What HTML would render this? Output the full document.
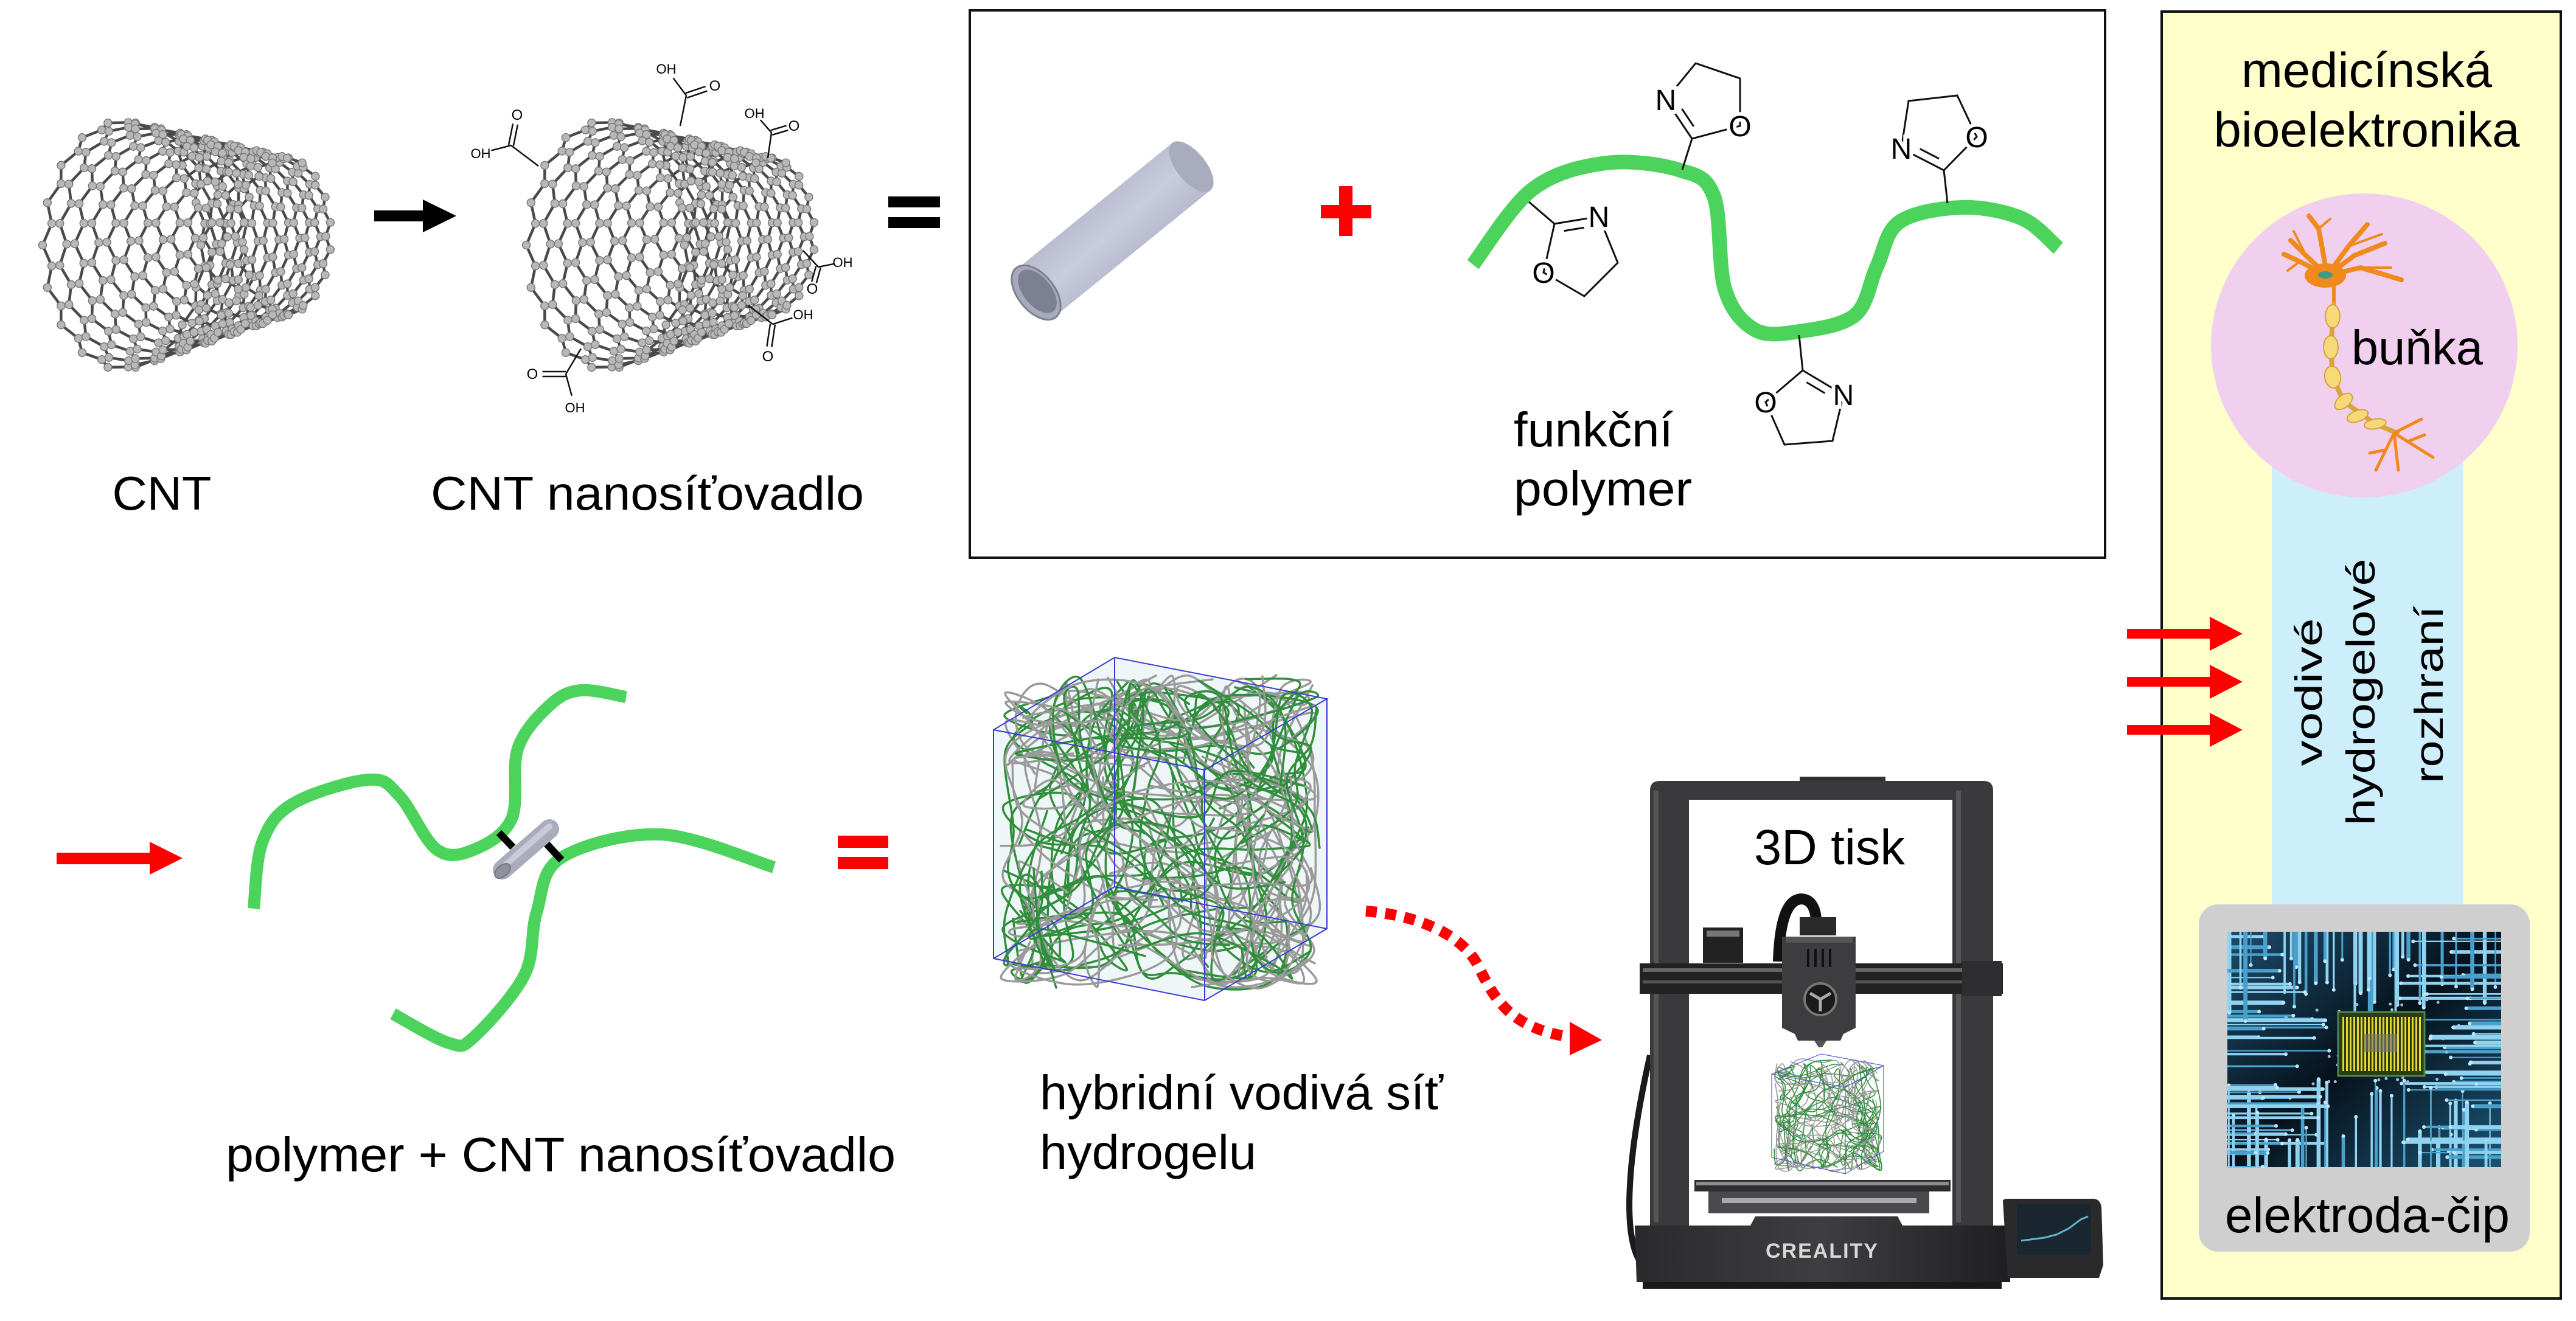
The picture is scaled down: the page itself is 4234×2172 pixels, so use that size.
<!DOCTYPE html>
<html><head><meta charset="utf-8">
<style>
html,body{margin:0;padding:0;background:#fff;}
svg{display:block;}
text{font-family:"Liberation Sans",Arial,sans-serif;fill:#000;}
.lab{paint-order:stroke;stroke:#fff;stroke-width:10px;}
</style></head>
<body>
<svg id="s" xmlns="http://www.w3.org/2000/svg" width="4234" height="2172" viewBox="0 0 4234 2172">
<defs>
<linearGradient id="tubeG" x1="0" y1="0" x2="1" y2="1">
<stop offset="0" stop-color="#8d90a2"/><stop offset="0.5" stop-color="#c9ccdf"/><stop offset="1" stop-color="#878a9c"/>
</linearGradient>
<linearGradient id="chipBg" x1="0" y1="0" x2="1" y2="1">
<stop offset="0" stop-color="#1d4c6c"/><stop offset="0.5" stop-color="#06121c"/><stop offset="1" stop-color="#1c5474"/>
</linearGradient>
<linearGradient id="baseG" x1="0" y1="0" x2="1" y2="0">
<stop offset="0" stop-color="#2a2a2c"/><stop offset="0.5" stop-color="#3e3e41"/><stop offset="1" stop-color="#1f1f21"/>
</linearGradient>
</defs>

<!-- ===== right panel ===== -->
<rect x="3553" y="19" width="656" height="2116" fill="#ffffcc" stroke="#111" stroke-width="4"/>
<rect x="3734" y="760" width="314" height="740" fill="#cdeefb"/>
<ellipse cx="3886" cy="568" rx="252" ry="250" fill="#f0d0ee"/>
<rect x="3614" y="1487" width="544" height="571" rx="32" fill="#cfcfcf"/>
<rect x="3661" y="1532" width="450" height="387" fill="url(#chipBg)"/>
<g id="chip"></g>
<text x="3890" y="143" font-size="81" text-anchor="middle" textLength="412" lengthAdjust="spacingAndGlyphs">medicínská</text>
<text x="3890" y="241" font-size="81" text-anchor="middle" textLength="503" lengthAdjust="spacingAndGlyphs">bioelektronika</text>
<text x="3865" y="599" font-size="80" textLength="216" lengthAdjust="spacingAndGlyphs">buňka</text>
<text x="3657" y="2026" font-size="82" textLength="468" lengthAdjust="spacingAndGlyphs">elektroda-čip</text>
<text transform="translate(3816,1138) rotate(-90)" font-size="62" text-anchor="middle" textLength="243" lengthAdjust="spacingAndGlyphs">vodivé</text>
<text transform="translate(3903,1138) rotate(-90)" font-size="66" text-anchor="middle" textLength="439" lengthAdjust="spacingAndGlyphs">hydrogelové</text>
<text transform="translate(4015,1142) rotate(-90)" font-size="66" text-anchor="middle" textLength="292" lengthAdjust="spacingAndGlyphs">rozhraní</text>
<!-- neuron -->
<g id="neuron" stroke-linecap="round" stroke-linejoin="round"></g>
<!-- red arrows -->
<g fill="#f00">
<rect x="3496" y="1034" width="140" height="16"/><polygon points="3632,1014 3686,1042 3632,1070"/>
<rect x="3496" y="1113" width="140" height="16"/><polygon points="3632,1093 3686,1121 3632,1149"/>
<rect x="3496" y="1192" width="140" height="16"/><polygon points="3632,1172 3686,1200 3632,1228"/>
</g>

<!-- ===== top-left ===== -->
<g id="cnt1"></g>
<g id="cnt2"></g>
<g id="cooh" stroke="#111" stroke-width="2.5" fill="none"></g>
<rect x="615" y="346" width="82" height="18" fill="#000"/>
<polygon points="695,328 750,355 695,382" fill="#000"/>
<rect x="1460" y="323" width="85" height="18" fill="#000"/>
<rect x="1460" y="357" width="85" height="18" fill="#000"/>
<text x="266" y="838" font-size="78" text-anchor="middle" textLength="163" lengthAdjust="spacingAndGlyphs">CNT</text>
<text x="708" y="838" font-size="78" textLength="712" lengthAdjust="spacingAndGlyphs">CNT nanosíťovadlo</text>

<!-- ===== top box ===== -->
<rect x="1594" y="17" width="1866" height="900" fill="none" stroke="#111" stroke-width="4"/>
<polygon points="1734.5,519.8 1671.5,442.2 1926.5,235.2 1989.5,312.8" fill="url(#tubeG)"/>
<ellipse cx="1958" cy="274" rx="50" ry="24" transform="rotate(51 1958 274)" fill="#a9acbf"/>
<ellipse cx="1703" cy="481" rx="52" ry="30" transform="rotate(51 1703 481)" fill="#a7aabb" stroke="#7d8090" stroke-width="3"/>
<ellipse cx="1705" cy="479" rx="42" ry="23" transform="rotate(51 1705 479)" fill="#7d8092"/>
<rect x="2201" y="306" width="22" height="82" fill="#f00"/>
<rect x="2171" y="337" width="83" height="22" fill="#f00"/>
<path id="poly1" fill="none" stroke="#4cd35c" stroke-width="24" stroke-linecap="butt"/>
<g id="oxa" stroke="#111" stroke-width="3" fill="none"></g>
<text x="2488" y="734" font-size="80" textLength="262" lengthAdjust="spacingAndGlyphs">funkční</text>
<text x="2488" y="831" font-size="80" textLength="293" lengthAdjust="spacingAndGlyphs">polymer</text>

<!-- ===== middle left ===== -->
<rect x="93" y="1402" width="155" height="19" fill="#f00"/>
<polygon points="246,1384 300,1411 246,1438" fill="#f00"/>
<path id="g1" fill="none" stroke="#4cd35c" stroke-width="20"/>
<path id="g2" fill="none" stroke="#4cd35c" stroke-width="20"/>
<line x1="820" y1="1369" x2="843" y2="1393" stroke="#000" stroke-width="12"/>
<line x1="897" y1="1386" x2="923" y2="1414" stroke="#000" stroke-width="12"/>
<line x1="826" y1="1430" x2="903" y2="1363" stroke="#a9acbd" stroke-width="32" stroke-linecap="round"/>
<line x1="826" y1="1426" x2="903" y2="1359" stroke="#c9cbd9" stroke-width="10" stroke-linecap="round"/>
<ellipse cx="826" cy="1432" rx="15" ry="9" transform="rotate(-41 826 1432)" fill="#8e91a2" stroke="#777" stroke-width="2"/>
<rect x="1377" y="1374" width="83" height="20" fill="#f00"/>
<rect x="1377" y="1409" width="83" height="20" fill="#f00"/>
<text x="371" y="1926" font-size="80" textLength="1101" lengthAdjust="spacingAndGlyphs">polymer + CNT nanosíťovadlo</text>

<!-- ===== hydrogel cube ===== -->
<polygon points="1633,1200 1832,1081 2181,1149 2181,1527 1980,1645 1633,1576" fill="#eef6f8"/>
<g id="fib" fill="none" stroke-linecap="round"></g>
<g stroke="#3a3ad8" stroke-width="2" fill="none">
<polyline points="1633,1200 1832,1081 2181,1149 1980,1266 1633,1200 1633,1576 1980,1645 2181,1527 2181,1149"/>
<line x1="1980" y1="1266" x2="1980" y2="1645"/>
<polyline points="1832,1081 1832,1458 2181,1527"/>
<line x1="1832" y1="1458" x2="1633" y2="1576"/>
</g>
<text x="1709" y="1824" font-size="80" textLength="663" lengthAdjust="spacingAndGlyphs">hybridní vodivá síť</text>
<text x="1709" y="1922" font-size="80" textLength="356" lengthAdjust="spacingAndGlyphs">hydrogelu</text>
<path d="M2245,1498 C2330,1505 2400,1535 2428,1585 C2455,1640 2480,1690 2580,1705" fill="none" stroke="#f00" stroke-width="18" stroke-dasharray="18 14"/>
<polygon points="2580,1680 2633,1710 2580,1735" fill="#f00"/>

<!-- ===== printer ===== -->
<g id="printer">
<path d="M2710,2089 C2660,2060 2675,1900 2712,1735" fill="none" stroke="#1a1a1a" stroke-width="10"/>
<rect x="2958" y="1277" width="141" height="8" fill="#333"/>
<path d="M2712,2018 L2712,1300 Q2712,1284 2728,1284 L3260,1284 Q3276,1284 3276,1300 L3276,2018 L3209,2018 L3209,1315 L2776,1315 L2776,2018 Z" fill="#3a3a3c"/>
<rect x="2718" y="1300" width="8" height="710" fill="#555"/>
<rect x="3215" y="1300" width="8" height="710" fill="#555"/>
<rect x="2799" y="1525" width="66" height="58" fill="#222"/>
<rect x="2805" y="1530" width="54" height="10" fill="#777"/>
<rect x="2695" y="1584" width="597" height="50" fill="#222"/>
<rect x="2700" y="1592" width="587" height="6" fill="#666"/>
<rect x="2700" y="1612" width="587" height="5" fill="#555"/>
<rect x="3225" y="1580" width="65" height="58" fill="#2e2e30"/>
<path d="M2923,1581 C2925,1520 2935,1480 2960,1478 C2980,1478 2985,1500 2985,1515" fill="none" stroke="#111" stroke-width="18"/>
<rect x="2958" y="1508" width="60" height="30" fill="#2a2a2a"/>
<path d="M2929,1540 L3050,1540 L3050,1690 L3030,1700 L3025,1711 L2955,1711 L2950,1700 L2929,1690 Z" fill="#3d3d40"/>
<rect x="2935" y="1540" width="110" height="10" fill="#555"/>
<g stroke="#111" stroke-width="4"><line x1="2972" y1="1560" x2="2972" y2="1590"/><line x1="2984" y1="1560" x2="2984" y2="1590"/><line x1="2996" y1="1560" x2="2996" y2="1590"/><line x1="3008" y1="1560" x2="3008" y2="1590"/></g>
<circle cx="2992" cy="1643" r="26" fill="#1a1a1a" stroke="#777" stroke-width="4"/>
<g stroke="#aaa" stroke-width="5"><line x1="2992" y1="1643" x2="2992" y2="1663"/><line x1="2992" y1="1643" x2="2975" y2="1633"/><line x1="2992" y1="1643" x2="3009" y2="1633"/></g>
<polygon points="2982,1711 3002,1711 2995,1722 2989,1722" fill="#555"/>
<g id="fib2" fill="none" stroke-linecap="round"></g>
<g stroke="#5a5ae0" stroke-width="1.2" fill="none">
<polyline points="2912,1766 2993,1733 3096,1752 3033,1788 2912,1766 2912,1903 3033,1930 3096,1893 3096,1752"/>
<line x1="3033" y1="1788" x2="3033" y2="1930"/>
</g>
<rect x="2785" y="1940" width="421" height="19" fill="#2e2e30"/>
<rect x="2788" y="1943" width="415" height="6" fill="#8c8c90"/>
<rect x="2808" y="1959" width="363" height="36" fill="#4a4a4c"/>
<rect x="2830" y="1970" width="320" height="8" fill="#aaa"/>
<path d="M2687,2015 L2877,2015 L2885,2000 L3119,2000 L3127,2015 L3304,2015 L3304,2108 L2690,2108 Z" fill="url(#baseG)"/>
<rect x="2700" y="2108" width="590" height="11" fill="#1a1a1a"/>
<text x="2995" y="2068" font-size="34" font-weight="bold" text-anchor="middle" fill="#ddd" style="fill:#d8d8d8" letter-spacing="2">CREALITY</text>
<path d="M3292,1975 Q3292,1971 3300,1971 L3440,1971 Q3452,1971 3454,1985 L3457,2080 L3450,2101 L3300,2101 Z" fill="#2a2a2c"/>
<rect x="3315" y="1980" width="122" height="83" fill="#1b2730"/>
<path d="M3322,2040 L3360,2035 L3380,2030 L3400,2020 L3420,2005 L3432,2000" fill="none" stroke="#5fb7c8" stroke-width="3"/>
</g>
<text x="2883" y="1421" font-size="82" textLength="248" lengthAdjust="spacingAndGlyphs">3D tisk</text>

<script><![CDATA[
(function(){
var NS="http://www.w3.org/2000/svg";
function el(tag,attrs,parent){var e=document.createElementNS(NS,tag);for(var k in attrs)e.setAttribute(k,attrs[k]);parent.appendChild(e);return e;}
function g(id){return document.getElementById(id);}
function cr(p){var d="M"+p[0][0]+","+p[0][1];for(var i=0;i<p.length-1;i++){var p0=p[i-1]||p[i],p1=p[i],p2=p[i+1],p3=p[i+2]||p2;
var c1=[p1[0]+(p2[0]-p0[0])/6,p1[1]+(p2[1]-p0[1])/6],c2=[p2[0]-(p3[0]-p1[0])/6,p2[1]-(p3[1]-p1[1])/6];
d+=" C"+c1[0].toFixed(1)+","+c1[1].toFixed(1)+" "+c2[0].toFixed(1)+","+c2[1].toFixed(1)+" "+p2[0]+","+p2[1];}return d;}
var seed=12345;function rnd(){seed=(seed*1103515245+12345)&0x7fffffff;return seed/0x7fffffff;}

// polymer curves
g("poly1").setAttribute("d",cr([[2421,435],[2519,311],[2640,268],[2762,280],[2817,323],[2835,475],[2884,542],[2957,545],[3049,518],[3085,438],[3122,365],[3225,341],[3323,359],[3383,408]]));
g("g1").setAttribute("d",cr([[417,1494],[431,1385],[482,1321],[605,1282],[656,1308],[718,1397],[779,1397],[841,1346],[851,1231],[903,1160],[954,1135],[1029,1146]]));
g("g2").setAttribute("d",cr([[1272,1426],[1087,1372],[923,1410],[882,1500],[862,1603],[779,1705],[738,1715],[646,1667]]));

// oxazolines
var ox=g("oxa");
var rings=[
 {a:[2765,279],c:[2781,228],n:[2738,164],c1:[2787,104],c2:[2860,129],o:[2860,207]},
 {a:[2513,332],c:[2555,368],n:[2628,356],c1:[2659,432],c2:[2604,487],o:[2537,448]},
 {a:[2957,551],c:[2963,609],n:[3030,649],c1:[3012,725],c2:[2933,731],o:[2902,661]},
 {a:[3201,334],c:[3195,280],n:[3125,244],c1:[3137,166],c2:[3217,157],o:[3249,225]}];
rings.forEach(function(r){
 el("polyline",{points:[r.a,r.c].join(" ")},ox);
 el("polyline",{points:[r.n,r.c1,r.c2,r.o,r.c,r.n].join(" ")},ox);
 var mx=(r.c[0]+r.n[0])/2,my=(r.c[1]+r.n[1])/2,cx=(r.c[0]+r.n[0]+r.c1[0]+r.c2[0]+r.o[0])/5,cy=(r.c[1]+r.n[1]+r.c1[1]+r.c2[1]+r.o[1])/5;
 var dx=r.n[0]-r.c[0],dy=r.n[1]-r.c[1];
 var ix=(cx-mx)*0.25,iy=(cy-my)*0.25;
 el("line",{x1:r.c[0]+dx*0.2+ix,y1:r.c[1]+dy*0.2+iy,x2:r.c[0]+dx*0.65+ix,y2:r.c[1]+dy*0.65+iy},ox);
 var t=el("text",{x:r.n[0],y:r.n[1]+17,"font-size":48,"text-anchor":"middle","class":"lab"},ox);t.textContent="N";t.setAttribute("style","fill:#000;stroke:#fff;stroke-width:12px");
 t=el("text",{x:r.o[0],y:r.o[1]+17,"font-size":48,"text-anchor":"middle","class":"lab"},ox);t.textContent="O";t.setAttribute("style","fill:#000;stroke:#fff;stroke-width:12px");
});

// CNT lattices
function cnt(id,off){
 var G=g(id),R=13,K=36,D=1/(R-0.5);
 function pos(j,k){var sh=((j%2==0)?(k%2==1):(k%2==0))?0.5:0;var u=(j+sh)*D;
  var cx=200+272*u+off,cy=403-15*u,rx=130-58*u,ry=204-76*u,th=k*2*Math.PI/K;
  return [cx-rx*Math.cos(th),cy+ry*Math.sin(th)];}
 var d="";
 for(var j=0;j<R;j++)for(var k=0;k<K;k++){var a=pos(j,k),b=pos(j,(k+1)%K);d+="M"+a[0].toFixed(1)+","+a[1].toFixed(1)+"L"+b[0].toFixed(1)+","+b[1].toFixed(1);
  if(j<R-1){var ok=(j%2==0)?(k%2==1):(k%2==0);if(ok){var c=pos(j+1,k);d+="M"+a[0].toFixed(1)+","+a[1].toFixed(1)+"L"+c[0].toFixed(1)+","+c[1].toFixed(1);}}}
 el("path",{d:d,stroke:"#4a4a4a","stroke-width":4.5,fill:"none"},G);
 for(j=0;j<R;j++)for(k=0;k<K;k++){var p=pos(j,k);el("circle",{cx:p[0].toFixed(1),cy:p[1].toFixed(1),r:6.5,fill:"#b8b8b8",stroke:"#7a7a7a","stroke-width":1.5},G);}
}
cnt("cnt1",0);cnt("cnt2",795);

// COOH
var co=g("cooh");
var grp=[[[885,273],[840,239],[850,189],[790,252]],[[1118,207],[1128,157],[1175,141],[1095,113]],[[1262,260],[1268,218],[1305,207],[1240,186]],
[[1320,412],[1345,439],[1335,475],[1385,431]],[[1230,502],[1270,533],[1262,586],[1320,517]],[[955,573],[930,615],[875,615],[945,670]]];
grp.forEach(function(q){
 el("line",{x1:q[0][0],y1:q[0][1],x2:q[1][0],y2:q[1][1]},co);
 var dx=q[2][0]-q[1][0],dy=q[2][1]-q[1][1],L=Math.hypot(dx,dy),px=-dy/L*4,py=dx/L*4;
 el("line",{x1:q[1][0]+px,y1:q[1][1]+py,x2:q[1][0]+dx*0.7+px,y2:q[1][1]+dy*0.7+py},co);
 el("line",{x1:q[1][0]-px,y1:q[1][1]-py,x2:q[1][0]+dx*0.7-px,y2:q[1][1]+dy*0.7-py},co);
 el("line",{x1:q[1][0],y1:q[1][1],x2:q[1][0]+(q[3][0]-q[1][0])*0.65,y2:q[1][1]+(q[3][1]-q[1][1])*0.65},co);
 var t=el("text",{x:q[2][0],y:q[2][1]+8,"font-size":24,"text-anchor":"middle",style:"fill:#000;stroke:none"},co);t.textContent="O";
 t=el("text",{x:q[3][0],y:q[3][1]+8,"font-size":22,"text-anchor":"middle",style:"fill:#000;stroke:none"},co);t.textContent="OH";
});

// fibers
function fibers(id,x0,y0,x1,y1,n,step,sw){
 var G=g(id);
 for(var i=0;i<n;i++){
  var col=(i%2==0)?"#2f8f3a":"#9a9a9a";
  var x=x0+rnd()*(x1-x0),y=y0+rnd()*(y1-y0),pts=[[x,y]],ang=rnd()*6.28;
  for(var s=0;s<7;s++){ang+=(rnd()-0.5)*2.4;x+=Math.cos(ang)*step*(0.6+rnd()*0.8);y+=Math.sin(ang)*step*(0.6+rnd()*0.8);
   if(x<x0){x=x0+(x0-x);ang=Math.PI-ang;} if(x>x1){x=x1-(x-x1);ang=Math.PI-ang;}
   if(y<y0){y=y0+(y0-y);ang=-ang;} if(y>y1){y=y1-(y-y1);ang=-ang;}
   pts.push([Math.round(x),Math.round(y)]);}
  el("path",{d:cr(pts),stroke:col,"stroke-width":sw},G);
 }
}
fibers("fib",1645,1110,2170,1625,110,95,3.5);
fibers("fib2",2916,1742,3092,1925,70,32,1.6);

// chip
var ch=g("chip");
for(var i=0;i<170;i++){
 var side=Math.floor(rnd()*4),x,y,x2,y2;
 if(side==0){x=3661+rnd()*450;y=1532;x2=x;y2=1532+40+rnd()*110;}
 else if(side==1){x=3661+rnd()*450;y=1919;x2=x;y2=1919-40-rnd()*110;}
 else if(side==2){y=1532+rnd()*387;x=3661;x2=3661+40+rnd()*130;y2=y;}
 else {y=1532+rnd()*387;x=4111;x2=4111-40-rnd()*130;y2=y;}
 el("line",{x1:x,y1:y,x2:x2,y2:y2,stroke:(rnd()<0.5?"#8fd3f0":"#4aa0cc"),"stroke-width":2+rnd()*5},ch);
 el("circle",{cx:x2,cy:y2,r:3,fill:"#bfe8ff"},ch);
}
for(i=0;i<40;i++){el("circle",{cx:3800+rnd()*230,cy:1640+rnd()*150,r:2.5,fill:"#9bd"},ch);}
el("rect",{x:3843,y:1664,width:142,height:105,fill:"#2c3a10",stroke:"#4a8a50","stroke-width":3},ch);
for(i=0;i<22;i++){el("rect",{x:3850+i*6,y:1672,width:3,height:89,fill:"#e6d830"},ch);}
el("rect",{x:3885,y:1700,width:55,height:30,fill:"#777","fill-opacity":0.6},ch);

// neuron
var ne=g("neuron");
var orange="#f08a1c";
var dend=[[[3825,453],[3780,430],[3754,418]],[[3825,453],[3790,420],[3765,395]],[[3825,453],[3811,376],[3795,355]],[[3825,453],[3860,405],[3891,369]],
 [[3825,453],[3880,440],[3947,460]],[[3825,453],[3870,420],[3920,400]],[[3811,376],[3830,360]],[[3860,405],[3915,385]],[[3780,430],[3760,445]],[[3790,420],[3770,380]],[[3880,440],[3930,440]]];
dend.forEach(function(p,i){el("polyline",{points:p.join(" "),fill:"none",stroke:orange,"stroke-width":i<6?8:4},ne);});
el("ellipse",{cx:3822,cy:453,rx:34,ry:20,fill:orange},ne);
el("ellipse",{cx:3822,cy:452,rx:12,ry:6,fill:"#3f9a86"},ne);
el("line",{x1:3836,y1:470,x2:3836,y2:500,stroke:orange,"stroke-width":6},ne);
var beads=[[3834,520,12,19,0],[3831,571,12,19,0],[3834,620,13,18,-10],[3852,660,17,10,-40],[3875,684,18,9,-20],[3904,697,18,8,-10]];
el("polyline",{points:"3836,500 3831,571 3834,620 3852,660 3904,697 3940,712",fill:"none",stroke:"#d9a43a","stroke-width":8},ne);
beads.forEach(function(b){el("ellipse",{cx:b[0],cy:b[1],rx:b[2],ry:b[3],transform:"rotate("+b[4]+" "+b[0]+" "+b[1]+")",fill:"#f7d97a",stroke:"#d8a23a","stroke-width":2},ne);});
var term=[[[3935,712],[3999,752]],[[3935,712],[3980,689]],[[3935,712],[3905,773]],[[3935,712],[3942,773]],[[3960,725],[3985,715]],[[3920,740],[3895,745]]];
term.forEach(function(p){el("polyline",{points:p.join(" "),fill:"none",stroke:orange,"stroke-width":5},ne);});
})();
]]></script>
</svg>
</body></html>
